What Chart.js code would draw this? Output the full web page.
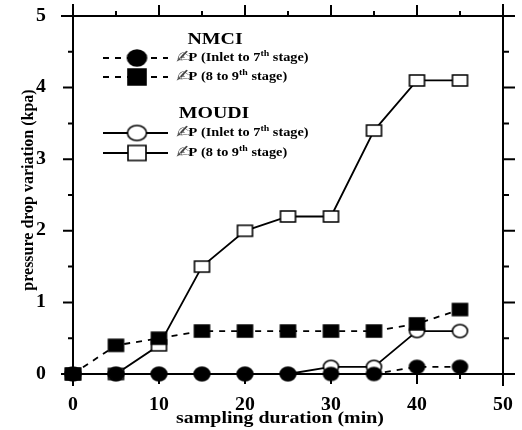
<!DOCTYPE html>
<html>
<head>
<meta charset="utf-8">
<script src="https://cdn.jsdelivr.net/npm/chart.js@4/dist/chart.umd.min.js"></script>
<style>
  html, body { margin: 0; padding: 0; background: #fff; }
  #c { display: block; }
</style>
</head>
<body>
<canvas id="c" width="522" height="430"></canvas>
<script>
// sampling times (min)
const minutes = [0, 5, 10, 15, 20, 25, 30, 35, 40, 45];
// pressure drop variation (kpa)
const nmciInlet7 = [0, 0, 0, 0, 0, 0, 0, 0, 0.1, 0.1];
const nmci8to9 = [0, 0.4, 0.5, 0.6, 0.6, 0.6, 0.6, 0.6, 0.7, 0.9];
const moudiInlet7 = [0, 0, 0, 0, 0, 0, 0.1, 0.1, 0.6, 0.6];
const moudi8to9 = [0, 0, 0.4, 1.5, 2.0, 2.2, 2.2, 3.4, 4.1, 4.1];

const xTicks = [0, 10, 20, 30, 40, 50];
const yTicks = [0, 1, 2, 3, 4, 5];
const xMinorTicks = [5, 15, 25, 35, 45];
const yMinorTicks = [0.5, 1.5, 2.5, 3.5, 4.5];

const xTitle = 'sampling duration (min)';
const yTitle = 'pressure drop variation (kpa)';

const FONT = '"Liberation Serif", "Times New Roman", serif';

// marker images (slightly wider than tall, like the original)
function makeMarker(shape, filled, w, h) {
    const cv = document.createElement('canvas');
    cv.width = w + 4;
    cv.height = h + 4;
    const g = cv.getContext('2d');
    g.lineWidth = 1.6;
    g.strokeStyle = '#000';
    g.fillStyle = filled ? '#000' : '#fff';
    g.beginPath();
    if (shape === 'circle') {
        g.ellipse(cv.width / 2, cv.height / 2, w / 2, h / 2, 0, 0, Math.PI * 2);
    } else {
        g.rect(2, 2, w, h);
    }
    g.fill();
    g.stroke();
    return cv;
}

const markers = {
    fCircle: makeMarker('circle', true, 15, 13),
    fSquare: makeMarker('rect', true, 15, 12),
    oCircle: makeMarker('circle', false, 15, 13),
    oSquare: makeMarker('rect', false, 15, 11)
};
const legendMarkers = {
    fCircle: makeMarker('circle', true, 19, 16),
    fSquare: makeMarker('rect', true, 18, 16),
    oCircle: makeMarker('circle', false, 19, 15),
    oSquare: makeMarker('rect', false, 18, 15)
};

function pts(ys) {
    return minutes.map((m, i) => ({ x: m, y: ys[i] }));
}

function series(label, ys, marker, dashed) {
    return {
        label: label,
        data: pts(ys),
        borderColor: '#000',
        borderWidth: 1.8,
        borderDash: dashed ? [6, 6] : [],
        pointStyle: markers[marker],
        pointRadius: 8,
        tension: 0,
        fill: false,
        clip: false
    };
}

// text a bit wider than the font, like the stretched original
function wideText(ctx, text, x, y, sx) {
    ctx.save();
    ctx.translate(x, y);
    ctx.scale(sx, 1);
    ctx.fillText(text, 0, 0);
    ctx.restore();
}

// axes, ticks, labels drawn from the chart's own scales
const frame = {
    id: 'frame',
    beforeDatasetsDraw(chart) {
        const { ctx, chartArea: a, scales: { x, y } } = chart;
        const over = 12;
        ctx.save();
        ctx.strokeStyle = '#000';
        ctx.lineWidth = 2;
        ctx.beginPath();
        ctx.moveTo(a.left - over, a.bottom); ctx.lineTo(a.right + over, a.bottom);
        ctx.moveTo(a.left - over, a.top); ctx.lineTo(a.right + over, a.top);
        ctx.moveTo(a.left, a.top - over); ctx.lineTo(a.left, a.bottom + over);
        ctx.moveTo(a.right, a.top - over); ctx.lineTo(a.right, a.bottom + over);
        ctx.stroke();

        ctx.beginPath();
        xTicks.forEach(v => {
            const px = x.getPixelForValue(v);
            ctx.moveTo(px, a.bottom); ctx.lineTo(px, a.bottom + 10);
            ctx.moveTo(px, a.top); ctx.lineTo(px, a.top - 11);
        });
        xMinorTicks.forEach(v => {
            const px = x.getPixelForValue(v);
            ctx.moveTo(px, a.bottom); ctx.lineTo(px, a.bottom + 5);
            ctx.moveTo(px, a.top); ctx.lineTo(px, a.top - 5);
        });
        yTicks.forEach(v => {
            const py = y.getPixelForValue(v);
            ctx.moveTo(a.left, py); ctx.lineTo(a.left - 10, py);
            ctx.moveTo(a.right, py); ctx.lineTo(a.right + 12, py);
        });
        yMinorTicks.forEach(v => {
            const py = y.getPixelForValue(v);
            ctx.moveTo(a.left, py); ctx.lineTo(a.left - 5, py);
            ctx.moveTo(a.right, py); ctx.lineTo(a.right + 6, py);
        });
        ctx.stroke();

        ctx.fillStyle = '#000';
        ctx.font = 'bold 18px ' + FONT;
        ctx.textAlign = 'center';
        ctx.textBaseline = 'middle';
        xTicks.forEach(v => wideText(ctx, String(v), x.getPixelForValue(v), a.bottom + 31, 1.1));
        ctx.textAlign = 'right';
        yTicks.forEach(v => wideText(ctx, String(v), a.left - 27, y.getPixelForValue(v), 1.1));

        ctx.font = 'bold 17px ' + FONT;
        ctx.textAlign = 'center';
        wideText(ctx, xTitle, 280, 419, 1.17);
        ctx.font = 'bold 16px ' + FONT;
        ctx.translate(29, 190);
        ctx.rotate(-Math.PI / 2);
        ctx.fillText(yTitle, 0, 0);
        ctx.restore();
    },
    afterDraw(chart) {
        const ctx = chart.ctx;
        ctx.save();
        ctx.fillStyle = '#000';
        ctx.strokeStyle = '#000';
        ctx.textBaseline = 'middle';

        ctx.font = 'bold 17px ' + FONT;
        ctx.textAlign = 'center';
        wideText(ctx, 'NMCI', 215, 40, 1.17);
        wideText(ctx, 'MOUDI', 214, 114, 1.17);

        const rows = [
            { y: 58, m: 'fCircle', dash: true, a: 'Inlet to 7', b: ' stage)' },
            { y: 77, m: 'fSquare', dash: true, a: '8 to 9', b: ' stage)' },
            { y: 133, m: 'oCircle', dash: false, a: 'Inlet to 7', b: ' stage)' },
            { y: 153, m: 'oSquare', dash: false, a: '8 to 9', b: ' stage)' }
        ];
        rows.forEach(r => {
            ctx.lineWidth = 1.8;
            ctx.setLineDash(r.dash ? [6, 6] : []);
            ctx.beginPath();
            ctx.moveTo(103, r.y);
            ctx.lineTo(168, r.y);
            ctx.stroke();
            ctx.setLineDash([]);
            const img = legendMarkers[r.m];
            ctx.drawImage(img, 137 - img.width / 2, r.y - img.height / 2);

            const sx = 1.1;
            let tx = 176;
            ctx.textAlign = 'left';
            ctx.fillStyle = '#444';
            ctx.font = '18px "DejaVu Sans", sans-serif';
            wideText(ctx, '\u270D', tx, r.y, sx);
            tx += ctx.measureText('\u270D').width * sx - 4;
            ctx.fillStyle = '#000';
            ctx.font = 'bold 13px ' + FONT;
            const t1 = 'P (' + r.a;
            wideText(ctx, t1, tx, r.y, sx);
            tx += ctx.measureText(t1).width * sx;
            ctx.font = 'bold 9px ' + FONT;
            wideText(ctx, 'th', tx, r.y - 4, sx);
            tx += ctx.measureText('th').width * sx;
            ctx.font = 'bold 13px ' + FONT;
            wideText(ctx, r.b, tx, r.y, sx);
        });
        ctx.restore();
    }
};

new Chart(document.getElementById('c').getContext('2d'), {
    type: 'line',
    data: {
        datasets: [
            series('NMCI \u0394P (8 to 9th stage)', nmci8to9, 'fSquare', true),
            series('NMCI \u0394P (Inlet to 7th stage)', nmciInlet7, 'fCircle', true),
            series('MOUDI \u0394P (Inlet to 7th stage)', moudiInlet7, 'oCircle', false),
            series('MOUDI \u0394P (8 to 9th stage)', moudi8to9, 'oSquare', false)
        ]
    },
    options: {
        responsive: false,
        animation: false,
        layout: { padding: { left: 73, right: 19, top: 16, bottom: 56 } },
        scales: {
            x: { type: 'linear', min: 0, max: 50, display: false },
            y: { type: 'linear', min: 0, max: 5, display: false }
        },
        plugins: {
            legend: { display: false },
            tooltip: { enabled: false }
        }
    },
    plugins: [frame]
});
</script>
</body>
</html>
